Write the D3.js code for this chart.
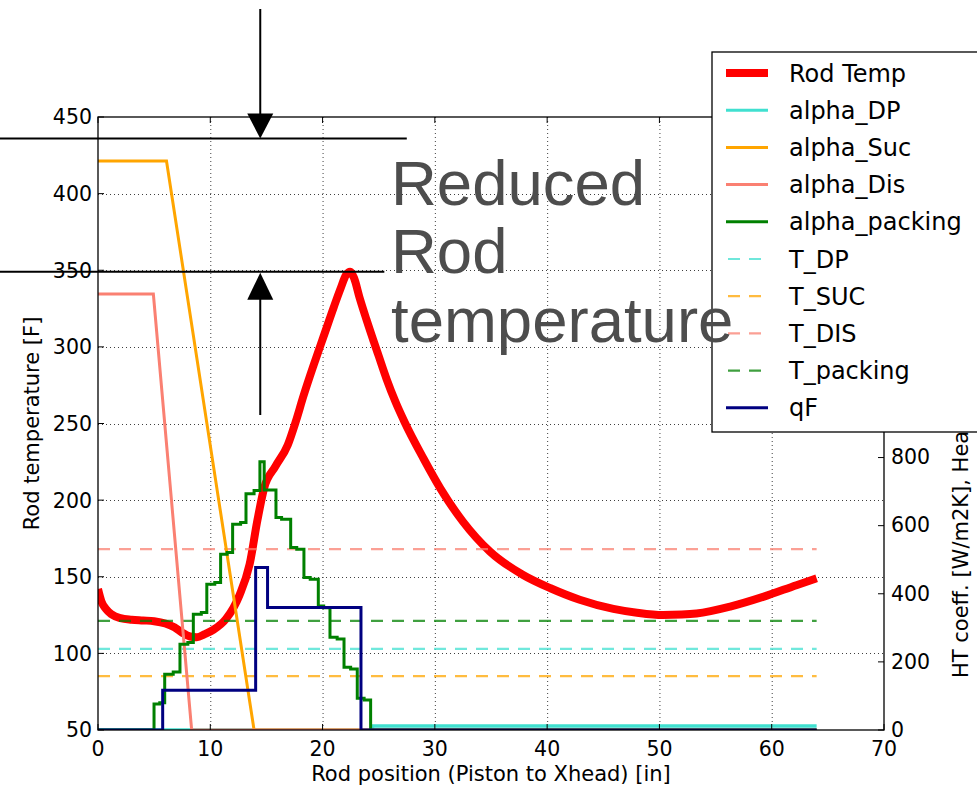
<!DOCTYPE html>
<html>
<head>
<meta charset="utf-8">
<script src="https://cdn.jsdelivr.net/npm/d3@7"></script>
<style>
  html, body { margin: 0; padding: 0; background: #fff; }
  svg { display: block; }
</style>
</head>
<body>
<svg id="chart" width="977" height="786"></svg>
<script>
// ---------------- DATA ----------------
const xTicks = [0, 10, 20, 30, 40, 50, 60, 70];
const yLeftTicks = [50, 100, 150, 200, 250, 300, 350, 400, 450];
const yRightTicks = [0, 200, 400, 600, 800, 1000, 1200, 1400, 1600, 1800];

// Rod temperature [F] along rod position [in]  (left axis)
const rodX = [0, 0.3, 0.7, 1.2, 2, 3, 4, 5, 6, 6.8, 7.5, 8.2, 8.8, 9.5, 10.3, 11.4, 12.6, 13.5, 14.2, 14.8,
  15.8, 16.9, 17.6, 18.3, 19.2, 20.1, 21.0, 21.6, 22.1, 22.45, 22.8, 23.3, 23.9, 25, 25.7, 26.5, 27.3, 29, 30.5,
  32.5, 34.9, 37.9, 40.3, 42.9, 45.9, 48, 50.3, 52, 53.3, 56.3, 59.3, 62.2, 64];
const rodT = [142, 134, 129, 125.5, 123, 122, 121.5, 121, 119.5, 117, 113.5, 111, 110.5, 112.5, 115.5, 122.5, 138, 158, 187, 208,
  222, 236, 251, 268, 288, 307, 326, 338, 347, 349, 345, 332, 318, 294, 279, 264, 251, 227, 207.5,
  186, 166.5, 151, 142.5, 135, 129, 126.5, 125, 125.3, 126, 130.5, 137, 144.5, 149];

// Heat transfer coefficients (right axis)
const dpX = [0, 24.45, 64];
const dpV = [0, 12, 12];                 // alpha_DP (step)
const sucX = [0, 6.1, 13.9, 64];
const sucV = [1671, 1671, 0, 0];         // alpha_Suc
const disX = [0, 4.93, 8.34, 64];
const disV = [1280, 1280, 0, 0];         // alpha_Dis
const packX = [0, 4.99, 5.5, 5.94, 6.7, 7.3, 8.0, 8.49, 9.2, 9.69, 10.4, 10.92, 11.5, 11.99, 12.7, 13.18, 13.9,
  14.42, 14.8, 15.85, 16.35, 17.16, 17.7, 18.34, 18.9, 19.62, 20.1, 20.66, 21.3, 21.91, 22.5, 23.09, 23.7, 24.28, 64];
const packV = [0, 76, 80, 164, 170, 252, 257, 340, 345, 428, 433, 516, 521, 604, 609, 694, 703,
  788, 705, 624, 619, 536, 531, 448, 443, 364, 359, 272, 267, 184, 179, 93, 88, 0, 0];   // alpha_packing (step)
const qX = [0, 5.76, 14.04, 15.1, 23.42, 64];
const qV = [0, 117, 477, 360, 0, 0];     // qF (step)

// Gas temperatures [F] (left axis, constant)
const tRange = [0, 64];
const tDP = 102.9, tSUC = 85.2, tDIS = 168, tPack = 121.2;

// Annotation levels (left axis)
const annotTop = 436, annotPeak = 349, annotX = 14.45;

const legendLabels = ["Rod Temp", "alpha_DP", "alpha_Suc", "alpha_Dis", "alpha_packing",
  "T_DP", "T_SUC", "T_DIS", "T_packing", "qF"];

// ---------------- SETUP ----------------
const svg = d3.select("#chart");
const L = 98, R = 884, T = 117, B = 730;
const x = d3.scaleLinear([0, 70], [L, R]);
const yL = d3.scaleLinear([50, 450], [B, T]);
const yR = d3.scaleLinear([0, 1800], [B, T]);
const font = "DejaVu Sans, sans-serif";
const legBox = { x: 712, y: 52, w: 290, h: 380 };

svg.append("defs").append("clipPath").attr("id", "plotclip")
  .append("rect").attr("x", L).attr("y", T).attr("width", R - L).attr("height", B - T);

// grid
const grid = svg.append("g").attr("stroke", "#000").attr("stroke-width", 1)
  .attr("stroke-dasharray", "1,3").attr("opacity", 0.75);
xTicks.slice(1, -1).forEach(t => grid.append("line")
  .attr("x1", x(t) + 0.5).attr("x2", x(t) + 0.5).attr("y1", T).attr("y2", B));
yLeftTicks.slice(1, -1).forEach(t => grid.append("line")
  .attr("x1", L).attr("x2", R).attr("y1", Math.round(yL(t)) + 0.5).attr("y2", Math.round(yL(t)) + 0.5));

const plot = svg.append("g").attr("clip-path", "url(#plotclip)");

// Rod temp
plot.append("path")
  .datum(rodX.map((d, i) => [d, rodT[i]]))
  .attr("fill", "none").attr("stroke", "#ff0000").attr("stroke-width", 8)
  .attr("stroke-linejoin", "round")
  .attr("d", d3.line().x(d => x(d[0])).y(d => yL(d[1])).curve(d3.curveMonotoneX));

// T lines (dashed)
const tLines = [[tDP, "#40e0d0"], [tSUC, "#ffa500"], [tDIS, "#fa8072"], [tPack, "#008000"]];
tLines.forEach(([v, c]) => plot.append("path")
  .datum(tRange.map(d => [d, v]))
  .attr("fill", "none").attr("stroke", c).attr("stroke-width", 2.2)
  .attr("stroke-dasharray", "12,9").attr("opacity", 0.75)
  .attr("d", d3.line().x(d => x(d[0])).y(d => yL(d[1]))));

// alpha lines
function addLine(xs, vs, color, curve, width) {
  plot.append("path")
    .datum(xs.map((d, i) => [d, vs[i]]))
    .attr("fill", "none").attr("stroke", color).attr("stroke-width", width)
    .attr("d", d3.line().x(d => x(d[0])).y(d => yR(d[1])).curve(curve));
}
addLine(dpX, dpV, "#40e0d0", d3.curveStepAfter, 3.5);
addLine(sucX, sucV, "#ffa500", d3.curveLinear, 3);
addLine(disX, disV, "#fa8072", d3.curveLinear, 3);
addLine(packX, packV, "#008000", d3.curveStepAfter, 3);
addLine(qX, qV, "#000080", d3.curveStepAfter, 3);

// spines
svg.append("rect").attr("x", L).attr("y", T).attr("width", R - L).attr("height", B - T)
  .attr("fill", "none").attr("stroke", "#000").attr("stroke-width", 1.3);

// ticks
const tk = svg.append("g").attr("stroke", "#000").attr("stroke-width", 1);
xTicks.forEach(t => {
  tk.append("line").attr("x1", x(t)).attr("x2", x(t)).attr("y1", B).attr("y2", B - 6);
  tk.append("line").attr("x1", x(t)).attr("x2", x(t)).attr("y1", T).attr("y2", T + 6);
});
yLeftTicks.forEach(t => tk.append("line").attr("x1", L).attr("x2", L + 6).attr("y1", yL(t)).attr("y2", yL(t)));
yRightTicks.forEach(t => tk.append("line").attr("x1", R).attr("x2", R - 6).attr("y1", yR(t)).attr("y2", yR(t)));

// tick labels
const tl = svg.append("g").attr("font-family", font).attr("font-size", 20.5).attr("fill", "#000");
xTicks.forEach(t => tl.append("text").attr("x", x(t)).attr("y", 756).attr("text-anchor", "middle").text(t));
yLeftTicks.forEach(t => tl.append("text").attr("x", L - 6).attr("y", yL(t)).attr("dy", "0.36em")
  .attr("text-anchor", "end").text(t));
// right-axis labels that sit behind the legend box are not visible
yRightTicks.filter(t => yR(t) > legBox.y + legBox.h + 8)
  .forEach(t => tl.append("text").attr("x", R + 7).attr("y", yR(t)).attr("dy", "0.33em")
    .attr("text-anchor", "start").text(t));

// axis labels
const al = svg.append("g").attr("font-family", font).attr("font-size", 21).attr("fill", "#000");
al.append("text").attr("x", (L + R) / 2).attr("y", 781).attr("text-anchor", "middle")
  .text("Rod position (Piston to Xhead) [in]");
al.append("text").attr("transform", `translate(39,${(T + B) / 2}) rotate(-90)`).attr("text-anchor", "middle")
  .text("Rod temperature [F]");
al.append("text").attr("transform", `translate(968,678) rotate(-90)`).attr("text-anchor", "start")
  .text("HT coeff. [W/m2K], Heat flux [W/m2]");

// legend
const lg = svg.append("g");
lg.append("rect").attr("x", legBox.x).attr("y", legBox.y).attr("width", legBox.w).attr("height", legBox.h)
  .attr("fill", "#fff").attr("stroke", "#000").attr("stroke-width", 1.3);
const legStyles = [
  ["#ff0000", 8, null, 1], ["#40e0d0", 3, null, 1], ["#ffa500", 3, null, 1], ["#fa8072", 3, null, 1],
  ["#008000", 3, null, 1], ["#40e0d0", 2.2, "12,9", 0.75], ["#ffa500", 2.2, "12,9", 0.75],
  ["#fa8072", 2.2, "12,9", 0.75], ["#008000", 2.2, "12,9", 0.75], ["#000080", 3, null, 1]];
legendLabels.forEach((lab, i) => {
  const yy = 73 + i * 37.2;
  const s = legStyles[i];
  const ln = lg.append("line").attr("x1", 726).attr("x2", 768).attr("y1", yy).attr("y2", yy)
    .attr("stroke", s[0]).attr("stroke-width", s[1]).attr("opacity", s[3]);
  if (s[2]) ln.attr("stroke-dasharray", s[2]).attr("x1", 728);
  lg.append("text").attr("x", 789).attr("y", yy).attr("dy", "0.36em")
    .attr("font-family", font).attr("font-size", 24).attr("fill", "#000").text(lab);
});

// annotations
const an = svg.append("g").attr("stroke", "#000").attr("stroke-width", 2);
an.append("line").attr("x1", 0).attr("x2", x(27.5)).attr("y1", yL(annotTop)).attr("y2", yL(annotTop));
an.append("line").attr("x1", 0).attr("x2", x(25.5)).attr("y1", yL(annotPeak)).attr("y2", yL(annotPeak));
const ax0 = x(annotX);
an.append("line").attr("x1", ax0).attr("x2", ax0).attr("y1", 9).attr("y2", yL(annotTop) - 22);
an.append("line").attr("x1", ax0).attr("x2", ax0).attr("y1", yL(annotPeak) + 24).attr("y2", 415);
svg.append("path").attr("fill", "#000")
  .attr("d", `M${ax0 - 13},${yL(annotTop) - 25} L${ax0 + 13},${yL(annotTop) - 25} L${ax0},${yL(annotTop)} Z`);
svg.append("path").attr("fill", "#000")
  .attr("d", `M${ax0 - 13},${yL(annotPeak) + 28} L${ax0 + 13},${yL(annotPeak) + 28} L${ax0},${yL(annotPeak) + 1} Z`);

// big text
const bt = svg.append("text").attr("font-family", "Liberation Sans, Arial, sans-serif")
  .attr("font-size", 63.5).attr("fill", "#4d4d4d");
[["Reduced", 205], ["Rod", 273], ["temperature", 342]].forEach(([t, yy]) =>
  bt.append("tspan").attr("x", 391).attr("y", yy).text(t));
</script>
</body>
</html>
